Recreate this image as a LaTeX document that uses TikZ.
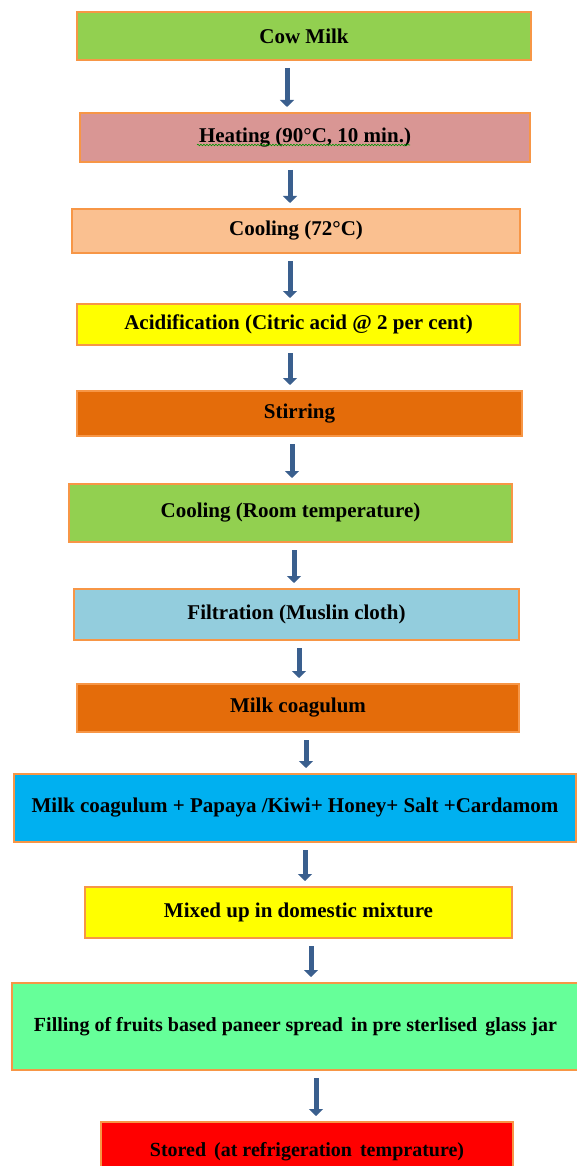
\documentclass[tikz,border=0pt]{standalone}
\usepackage{fontspec}
\setmainfont{Liberation Serif}
\usetikzlibrary{arrows.meta,decorations,decorations.pathmorphing}

\definecolor{boxline}{HTML}{F79646}
\definecolor{cowgreen}{HTML}{92D050}
\definecolor{heatpink}{HTML}{D99694}
\definecolor{coolpeach}{HTML}{FAC090}
\definecolor{acidyellow}{HTML}{FFFF00}
\definecolor{stirorange}{HTML}{E46C0A}
\definecolor{filtblue}{HTML}{93CDDD}
\definecolor{mixblue}{HTML}{00B0F0}
\definecolor{fillgreen}{HTML}{66FF99}
\definecolor{storedred}{HTML}{FF0000}
\definecolor{arrowblue}{HTML}{3A5F8E}

\begin{document}
\begin{tikzpicture}[x=1pt,y=-1pt]
	\tikzstyle{every node}=[font=\fontsize{21}{25}\selectfont\bfseries]
	\tikzstyle{stepbox}=[rectangle, draw=boxline, line width=2pt, inner sep=0pt, anchor=center]
	\tikzstyle{smalltext}=[font=\fontsize{20}{24}\selectfont\bfseries]
	\tikzstyle{flow}=[-{Triangle[width=14pt,length=7pt]}, line width=5pt, arrowblue, shorten <=7pt, shorten >=5pt]
	
	\useasboundingbox (0,0) rectangle (576,1166);
	
	%%process steps
	\node [stepbox, fill=cowgreen, minimum width=454pt, minimum height=48pt] (cow) at (304,36) {Cow Milk};
	\node [stepbox, fill=heatpink, minimum width=450pt, minimum height=49pt] (heat) at (305,137.5) {Heating (90°C, 10 min.)};
	\node [stepbox, fill=coolpeach, minimum width=448pt, minimum height=44pt] (coolhot) at (296,231) {Cooling (72°C)};
	\node [stepbox, fill=acidyellow, minimum width=443pt, minimum height=41pt] (acid) at (298.5,324.5) {Acidification (Citric acid @ 2 per cent)};
	\node [stepbox, fill=stirorange, minimum width=445pt, minimum height=45pt] (stir) at (299.5,413.5) {Stirring};
	\node [stepbox, fill=cowgreen, minimum width=443pt, minimum height=58pt] (coolroom) at (290.5,513) {Cooling (Room temperature)};
	\node [stepbox, fill=filtblue, minimum width=445pt, minimum height=51pt] (filt) at (296.5,614.5) {Filtration (Muslin cloth)};
	\node [stepbox, fill=stirorange, minimum width=442pt, minimum height=48pt] (coag) at (298,708) {Milk coagulum};
	\node [stepbox, fill=mixblue, minimum width=562pt, minimum height=68pt] (blend) at (295,808) {Milk coagulum + Papaya /Kiwi+ Honey+ Salt +Cardamom};
	\node [stepbox, fill=acidyellow, minimum width=427pt, minimum height=51pt] (mixer) at (298.5,912.5) {Mixed up in domestic mixture};
	\node [stepbox, smalltext, fill=fillgreen, minimum width=567pt, minimum height=87pt] (jar) at (295.5,1026.5) {Filling of fruits based paneer spread\hspace{3pt} in pre sterlised\hspace{3pt} glass jar};
	\node [stepbox, smalltext, fill=storedred, minimum width=412pt, minimum height=60pt] (store) at (307,1152) {Stored\hspace{3pt} (at refrigeration\hspace{3pt} temprature)};
	
	%%spell check mark
	\draw [green!60!black, line width=0.6pt, decorate, decoration={snake, segment length=3pt, amplitude=0.8pt}] (197,145) -- (410,145);
	
	%%arrows
	\draw [flow] (cow.south -| 287,0) -- (heat.north -| 287,0);
	\draw [flow] (heat.south -| 290,0) -- (coolhot.north -| 290,0);
	\draw [flow] (coolhot.south -| 290,0) -- (acid.north -| 290,0);
	\draw [flow] (acid.south -| 290,0) -- (stir.north -| 290,0);
	\draw [flow] (stir.south -| 292,0) -- (coolroom.north -| 292,0);
	\draw [flow] (coolroom.south -| 294,0) -- (filt.north -| 294,0);
	\draw [flow] (filt.south -| 299,0) -- (coag.north -| 299,0);
	\draw [flow] (coag.south -| 306,0) -- (blend.north -| 306,0);
	\draw [flow] (blend.south -| 305,0) -- (mixer.north -| 305,0);
	\draw [flow] (mixer.south -| 311,0) -- (jar.north -| 311,0);
	\draw [flow] (jar.south -| 316,0) -- (store.north -| 316,0);

\end{tikzpicture}
\end{document}
